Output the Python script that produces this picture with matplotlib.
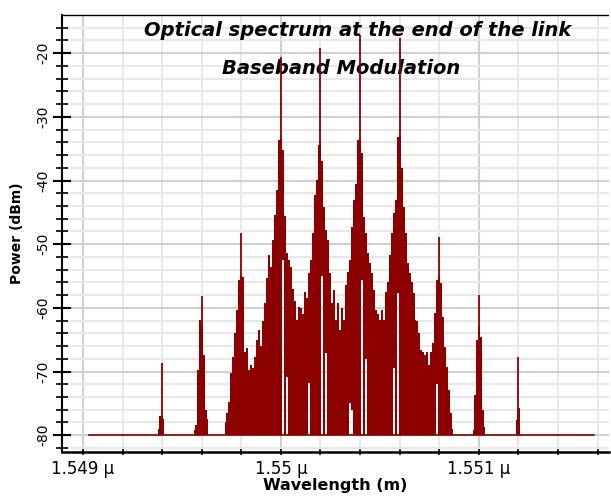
import numpy as np
import matplotlib
matplotlib.use("Agg")
import matplotlib.pyplot as plt
from matplotlib.ticker import MultipleLocator, FixedLocator

plt.rcParams["axes.unicode_minus"] = False

# carrier lines (um, dBm)
carrier_wl = [1.5494, 1.5496, 1.5498, 1.5500, 1.5502, 1.5504, 1.5506, 1.5508, 1.5510, 1.5512]
carrier_dbm = [-68.7, -58.2, -48.3, -20.6, -19.2, -17.2, -17.6, -48.9, -58.0, -67.7]

# dense modulated band, one value every 0.00001 um from 1.54972 um
band_start = 1.54972
band_step = 0.00001
band_dbm = [-77.9, -76.5, -74.8, -70.2, -67.7, -64.0, -60.3, -55.6, -55.0, -55.2,
            -67.0, -66.3, -69.8, -69.0, -69.5, -67.7, -65.0, -63.5, -66.0, -62.0,
            -59.2, -55.3, -51.7, -53.6, -49.4, -45.4, -41.5, -33.7, -33.5, -35.2,
            -45.5, -51.4, -52.5, -53.6, -57.0, -59.0, -61.9, -59.9, -60.0, -61.0,
            -57.5, -58.5, -54.5, -52.5, -48.3, -42.3, -39.9, -34.5, -34.0, -37.0,
            -44.2, -47.8, -49.4, -54.5, -59.2, -57.2, -61.9, -59.2, -63.5, -60.0,
            -61.9, -56.4, -54.4, -52.5, -47.3, -43.1, -40.5, -33.7, -33.7, -35.7,
            -45.7, -48.3, -51.4, -53.0, -54.5, -57.2, -60.3, -61.0, -61.9, -60.3,
            -61.9, -57.5, -56.0, -51.7, -48.3, -45.1, -43.1, -33.2, -33.0, -38.0,
            -44.1, -48.3, -53.0, -54.5, -56.0, -57.7, -61.9, -62.0, -64.0, -66.6,
            -67.0, -67.4, -67.0, -69.0, -67.0, -65.5, -60.8, -55.6, -55.0, -56.1,
            -61.4, -66.1, -69.3, -72.9, -76.5, -79.0]
# white gaps inside the band (sample index, level where red starts)
gap_idx = [29, 31, 42, 49, 51, 63, 64, 69, 71, 85, 87, 107]
gap_dbm = [-52.5, -70.9, -71.8, -55.0, -67.1, -75.0, -76.0, -55.6, -68.0, -69.5, -57.7, -72.0]

# small outer clusters
c1_wl = [1.54938, 1.54939, 1.54940, 1.54941]
c1_dbm = [-79.0, -77.0, -77.0, -77.5]
c2_wl = [1.54956, 1.54957, 1.54958, 1.54959, 1.54960, 1.54961, 1.54962, 1.54963]
c2_dbm = [-79.2, -78.4, -69.8, -61.9, -63.0, -67.4, -76.0, -77.5]
c3_wl = [1.55097, 1.55098, 1.55099, 1.55100, 1.55101, 1.55102, 1.55103]
c3_dbm = [-79.2, -73.7, -65.0, -63.0, -64.5, -76.0, -78.7]
c4_wl = [1.55119, 1.55120, 1.55121]
c4_dbm = [-77.6, -76.0, -75.7]

base_wl = [1.54903, 1.55158]
base_dbm = [-80, -80]

red = "#8c0000"

fig = plt.figure(figsize=(6.11, 4.97), dpi=100)
ax = fig.add_axes([0.1015, 0.0905, 0.895, 0.879])

ax.plot(base_wl, base_dbm, color=red, lw=1.2, zorder=3)

band_wl = band_start + band_step * np.arange(len(band_dbm))
band_floor = np.full(len(band_dbm), -80.0)
band_floor[gap_idx] = gap_dbm
ax.fill_between(band_wl, band_floor, band_dbm, step="mid", color=red, lw=0, zorder=3)

for w, d in [(c1_wl, c1_dbm), (c2_wl, c2_dbm), (c3_wl, c3_dbm), (c4_wl, c4_dbm)]:
    ax.fill_between(w, -80, d, step="mid", color=red, lw=0, zorder=3)

ax.vlines(carrier_wl, -80, carrier_dbm, color=red, lw=1.3, zorder=4)

ax.set_xlim(1.548894, 1.551657)
ax.set_ylim(-82.64, -14.03)

ax.xaxis.set_major_locator(FixedLocator([1.549, 1.550, 1.551]))
ax.xaxis.set_minor_locator(MultipleLocator(0.0002))
ax.set_xticklabels(["1.549 \u03bc", "1.55 \u03bc", "1.551 \u03bc"])
ax.yaxis.set_major_locator(MultipleLocator(10))
ax.yaxis.set_minor_locator(MultipleLocator(2))

ax.grid(which="minor", color="#e8e8e8", lw=1.5, zorder=0)
ax.grid(which="major", color="#d0d0d0", lw=1.5, zorder=0)
ax.set_axisbelow(True)

ax.tick_params(axis="y", which="major", direction="inout", length=13, width=1.5, labelsize=10, pad=2)
ax.tick_params(axis="y", which="minor", direction="inout", length=8, width=1.2)
ax.tick_params(axis="y", labelrotation=90)
for lab in ax.get_yticklabels():
    lab.set_va("center")
ax.tick_params(axis="x", which="both", direction="inout", length=4, width=1.2, labelsize=12, pad=4)

ax.spines["left"].set_linewidth(1.5)
ax.spines["bottom"].set_linestyle((0, (1, 1)))
ax.spines["bottom"].set_linewidth(1.8)
ax.spines["top"].set_linestyle((0, (1, 1)))
ax.spines["top"].set_linewidth(1)
ax.spines["right"].set_visible(False)

ax.set_xlabel("Wavelength (m)", fontsize=11.5, fontweight="bold", labelpad=0)
ax.set_ylabel("Power (dBm)", fontsize=10, fontweight="bold", labelpad=9)

ax.text(0.541, 0.966, "Optical spectrum at the end of the link", transform=ax.transAxes,
        ha="center", va="center", fontsize=14, fontweight="bold", fontstyle="italic")
ax.text(0.510, 0.879, "Baseband Modulation", transform=ax.transAxes,
        ha="center", va="center", fontsize=14, fontweight="bold", fontstyle="italic")

fig.savefig("out.png", dpi=100)
